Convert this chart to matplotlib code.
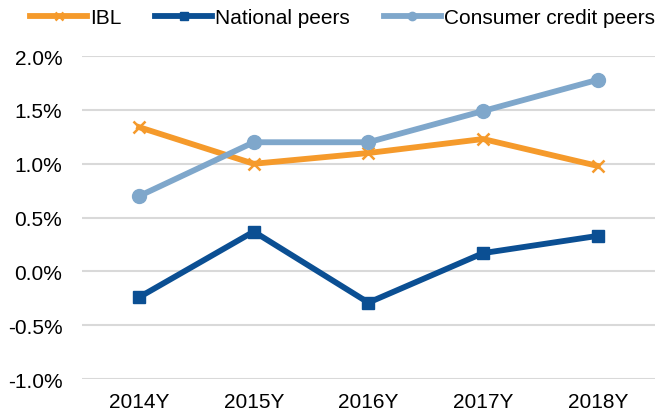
import matplotlib

matplotlib.use("Agg")
import matplotlib.pyplot as plt  # noqa: E402
from matplotlib.ticker import FuncFormatter  # noqa: E402

years = ["2014Y", "2015Y", "2016Y", "2017Y", "2018Y"]
ibl = [1.34, 1.00, 1.10, 1.23, 0.98]
national = [-0.24, 0.37, -0.29, 0.17, 0.33]
consumer = [0.70, 1.20, 1.20, 1.49, 1.78]

plt.rcParams["font.family"] = ["Liberation Sans", "DejaVu Sans"]

fig = plt.figure(figsize=(6.65, 4.14), dpi=100)
ax = fig.add_axes([0.123, 0.082, 0.862, 0.78])

x = list(range(len(years)))
ax.plot(x, ibl, color="#F59A2B", lw=4.2, marker="x", markersize=9,
        markeredgewidth=1.8, label="IBL", zorder=3)
ax.plot(x, national, color="#0B4F93", lw=4.2, marker="s", markersize=9,
        label="National peers", zorder=3)
ax.plot(x, consumer, color="#7FA7CB", lw=4.2, marker="o", markersize=10,
        label="Consumer credit peers", zorder=3)

ax.set_xlim(-0.5, len(years) - 0.5)
ax.set_ylim(-1.0, 2.0)
ax.set_yticks([-1.0, -0.5, 0.0, 0.5, 1.0, 1.5, 2.0])
ax.yaxis.set_major_formatter(FuncFormatter(lambda v, _: f"{v:.1f}%"))
ax.set_xticks(x)
ax.set_xticklabels(years)
ax.grid(axis="y", color="#D9D9D9", lw=1.5)
ax.set_axisbelow(True)
for s in ax.spines.values():
    s.set_visible(False)
ax.tick_params(length=0, labelsize=15, colors="black")
ax.tick_params(axis="y", pad=14)
ax.tick_params(axis="x", pad=9)

fig.legend(loc="center left", bbox_to_anchor=(0.045, 0.955), ncol=3, frameon=False,
           fontsize=15, handlelength=2.75, columnspacing=1.6, handletextpad=0.15,
           markerscale=0.6, borderpad=0, borderaxespad=0)

fig.savefig("out.png", dpi=100)
